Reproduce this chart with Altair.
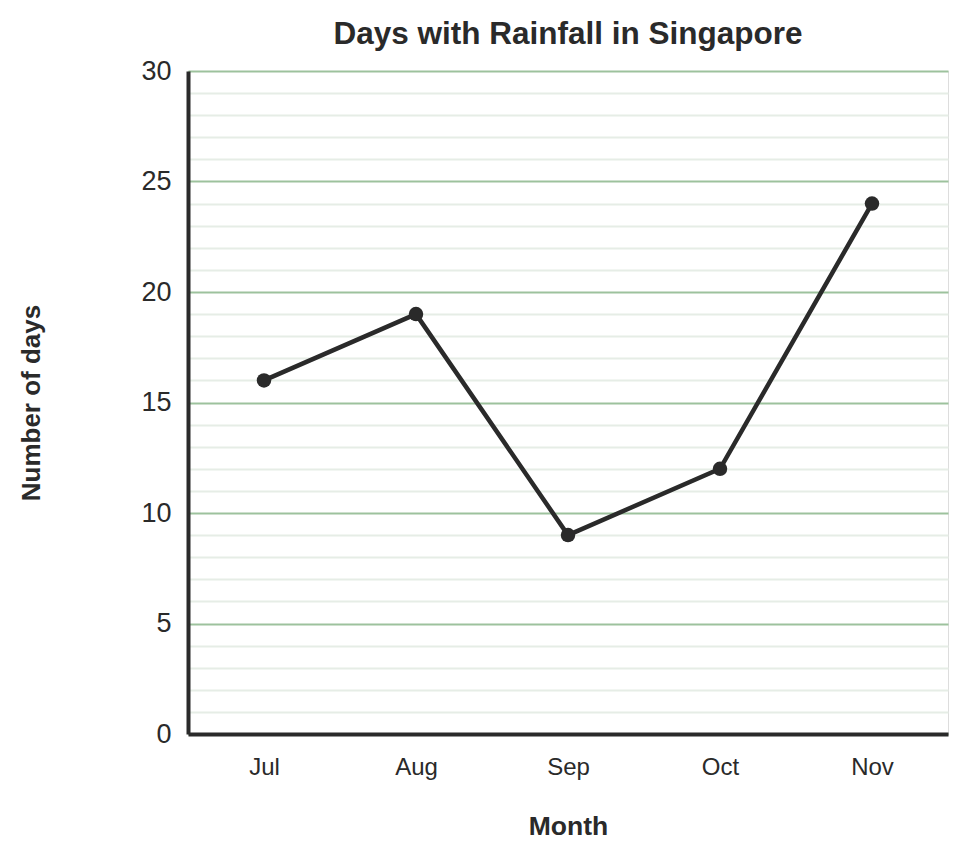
import altair as alt
import pandas as pd

months = ["Jul", "Aug", "Sep", "Oct", "Nov"]
days = [16, 19, 9, 12, 24]
y_ticks = list(range(0, 31))

df = pd.DataFrame({"Month": months, "Days": days})

FONT = "Liberation Sans"
INK = "#2a2a2a"

x_enc = alt.X(
    "Month:N",
    sort=months,
    scale=alt.Scale(paddingInner=0, paddingOuter=0),
    axis=alt.Axis(
        title="Month",
        labelAngle=0,
        labelFontSize=24,
        labelColor=INK,
        labelFont=FONT,
        labelPadding=21,
        ticks=False,
        grid=False,
        domainColor=INK,
        domainWidth=4,
        titleFont=FONT,
        titleFontSize=26.5,
        titleFontWeight="bold",
        titleColor=INK,
        titleY=92,
        titleBaseline="middle",
    ),
)

y_enc = alt.Y(
    "Days:Q",
    scale=alt.Scale(domain=[0, 30], nice=False),
    axis=alt.Axis(
        title="Number of days",
        values=y_ticks,
        labelExpr="datum.value % 5 === 0 ? datum.label : ''",
        labelFontSize=27,
        labelColor=INK,
        labelFont=FONT,
        labelPadding=17,
        ticks=False,
        grid=True,
        gridColor={"condition": {"test": "datum.value % 5 === 0", "value": "#9dc29d"}, "value": "#e6ede6"},
        gridWidth=2,
        domainColor=INK,
        domainWidth=4,
        titleFont=FONT,
        titleFontSize=26,
        titleFontWeight="bold",
        titleColor=INK,
        titleX=-157,
        titleBaseline="middle",
        titleAngle=270,
    ),
)

base = alt.Chart(df).encode(x=x_enc, y=y_enc)
line = base.mark_line(color=INK, strokeWidth=4.5)
pts = base.mark_circle(color=INK, size=210, opacity=1)

chart = (
    alt.layer(line, pts)
    .properties(
        width=760,
        height=663,
        title=alt.TitleParams(
            "Days with Rainfall in Singapore",
            font=FONT,
            fontSize=31.5,
            fontWeight="bold",
            color=INK,
            anchor="middle",
            offset=7,
        ),
        autosize=alt.AutoSizeParams(type="none"),
        padding={"left": 180, "top": 63, "right": 10, "bottom": 110},
    )
    .configure_view(stroke=None)
    .configure(background="white")
)

chart.save("out.html", embed_options={"renderer": "svg", "actions": False})
